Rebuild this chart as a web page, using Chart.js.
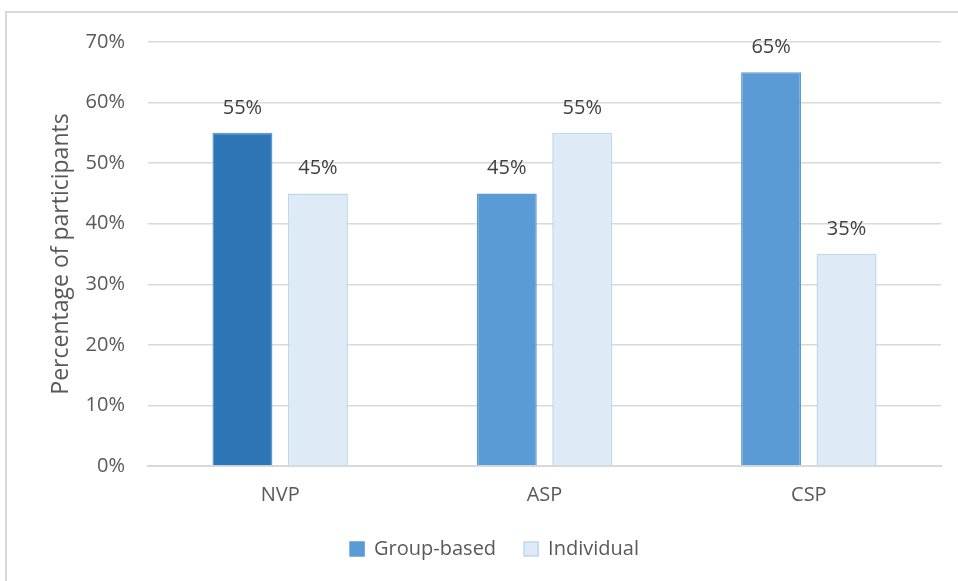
<!DOCTYPE html>
<html>
<head>
<meta charset="utf-8">
<script src="https://cdn.jsdelivr.net/npm/chart.js@4.4.1/dist/chart.umd.min.js"></script>
<style>
  body { margin: 0; background: #fff; overflow: hidden; }
  #frame { position: absolute; left: 5px; top: 11px; width: 1000px; height: 640px; border: 2px solid #d9d9d9; }
  #wrap { position: absolute; left: 0; top: 0; width: 958px; height: 581px; }
</style>
</head>
<body>
<div id="frame"></div>
<div id="wrap"><canvas id="chart"></canvas></div>
<script>
// Chart data
const categories = ['NVP', 'ASP', 'CSP'];
const groupBased = [55, 45, 65];
const individual = [45, 55, 35];
const yTicks = [0, 10, 20, 30, 40, 50, 60, 70];

const textColor = '#595959';
const fontFamily = '"Open Sans", "Noto Sans", sans-serif';
const groupColor = '#5b9bd5';
const groupHighlight = '#2e75b6';

// draws "55%" above every bar
const valueLabels = {
    id: 'valueLabels',
    afterDatasetsDraw(chart) {
        const ctx = chart.ctx;
        ctx.save();
        ctx.font = '20px ' + fontFamily;
        ctx.fillStyle = '#404040';
        ctx.textAlign = 'center';
        ctx.textBaseline = 'middle';
        chart.data.datasets.forEach((ds, i) => {
            chart.getDatasetMeta(i).data.forEach((bar, j) => {
                ctx.fillText(ds.data[j] + '%', bar.x, bar.y - 25);
            });
        });
        ctx.restore();
    }
};

new Chart(document.getElementById('chart'), {
    type: 'bar',
    data: {
        labels: categories,
        datasets: [{
            label: 'Group-based',
            data: groupBased,
            backgroundColor: [groupHighlight, groupColor, groupColor],
            borderColor: groupColor,
            borderWidth: 1.5
        }, {
            label: 'Individual',
            data: individual,
            backgroundColor: '#deebf7',
            borderColor: '#bdd7ee',
            borderWidth: 1.5
        }]
    },
    options: {
        responsive: true,
        maintainAspectRatio: false,
        animation: false,
        categoryPercentage: 0.571,
        barPercentage: 0.795,
        layout: { padding: { left: 48, right: 17, top: 42, bottom: 12 } },
        plugins: {
            legend: {
                position: 'bottom',
                labels: {
                    color: textColor,
                    font: { size: 20, family: fontFamily },
                    boxWidth: 14,
                    boxHeight: 14,
                    padding: 28,
                    generateLabels(chart) {
                        const items = Chart.defaults.plugins.legend.labels.generateLabels(chart);
                        items[0].fillStyle = groupColor;
                        return items;
                    }
                }
            },
            tooltip: { enabled: false }
        },
        scales: {
            x: {
                grid: { display: false },
                border: { color: '#d9d9d9', width: 2 },
                ticks: { color: textColor, font: { size: 20, family: fontFamily }, padding: 9 },
                afterFit(scale) { scale.height = 45; }
            },
            y: {
                min: 0,
                max: 70,
                afterBuildTicks(scale) { scale.ticks = yTicks.map(v => ({ value: v })); },
                grid: { color: '#d9d9d9', lineWidth: 1.5, drawTicks: false },
                border: { display: false },
                ticks: {
                    color: textColor,
                    font: { size: 20, family: fontFamily },
                    padding: 23,
                    callback: v => v + '%'
                },
                title: {
                    display: true,
                    text: 'Percentage of participants',
                    color: textColor,
                    font: { size: 23, family: fontFamily },
                    padding: 0
                },
                afterFit(scale) { scale.width = 100; }
            }
        }
    },
    plugins: [valueLabels]
});
</script>
</body>
</html>
